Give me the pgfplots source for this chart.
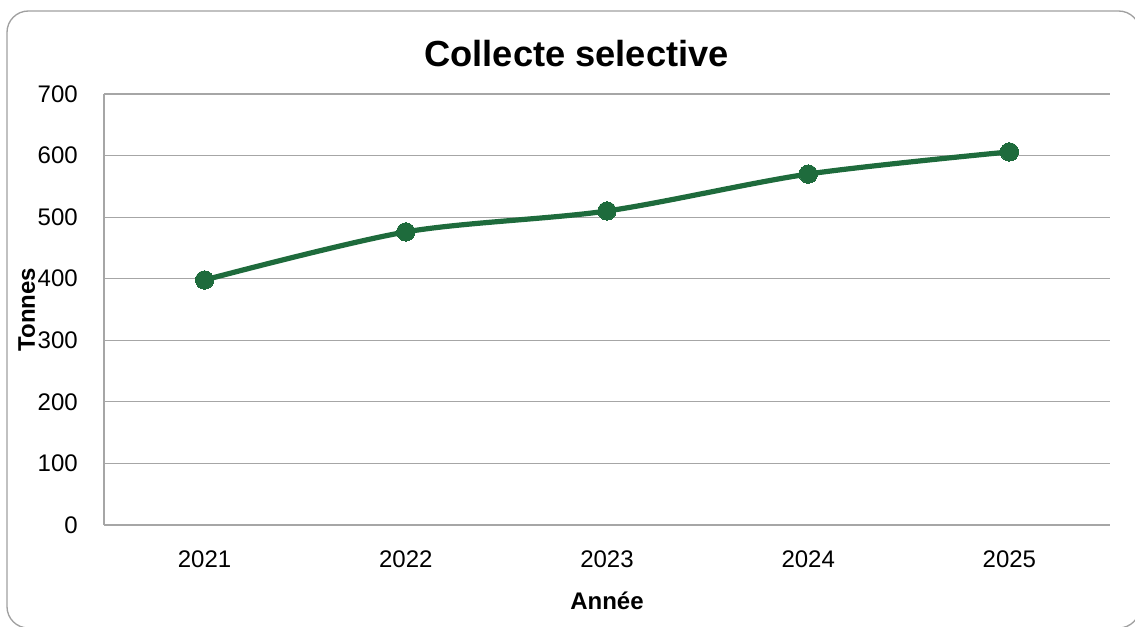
\documentclass[border=0pt]{standalone}
\usepackage{pgfplots}
\pgfplotsset{compat=1.18}
\usepackage{fontspec}
\setmainfont{Liberation Sans}
\definecolor{linegreen}{HTML}{1E6B3C}
\definecolor{gridgray}{HTML}{A6A6A6}
\definecolor{bordergray}{HTML}{A0A0A0}
\begin{document}
\begin{tikzpicture}
\useasboundingbox (0,0) rectangle (851.25pt,469.5pt);
\begin{scope}
\clip (0,0) rectangle (851.25pt,469.5pt);
\draw[bordergray, line width=1pt, rounded corners=16pt] (5.25pt,-1.5pt) rectangle (855pt,461.25pt);
\end{scope}
\node[anchor=base, inner sep=0pt, font=\fontsize{27.2}{31}\selectfont\bfseries] at (432.4pt,419.5pt) {Collecte selective};
\begin{axis}[
  at={(78pt,75.75pt)}, anchor=south west,
  scale only axis, width=754.5pt, height=323.25pt,
  xmin=2020.5, xmax=2025.5, ymin=0, ymax=700,
  xtick={2021,2022,2023,2024,2025},
  xticklabels={2021,2022,2023,2024,2025},
  ytick={0,100,...,700},
  major tick length=0pt,
  axis x line*=bottom, axis y line*=left,
  axis line style={gridgray, line width=0.9pt, -},
  ymajorgrids, grid style={gridgray, line width=0.9pt},
  /pgf/number format/assume math mode=true,
  ticklabel style={font=\fontsize{18}{20}\selectfont, inner sep=0pt},
  yticklabel style={anchor=east, xshift=-19.5pt},
  xticklabel style={anchor=north, yshift=-18.75pt},
  xlabel={Année}, ylabel={Tonnes},
  xlabel style={font=\fontsize{18}{20}\selectfont\bfseries, inner sep=0pt, at={(axis description cs:0.5,0)}, anchor=north, yshift=-50pt},
  ylabel style={font=\fontsize{18}{20}\selectfont\bfseries, inner sep=0pt, at={(axis description cs:-0.0855,0.5)}, anchor=north, rotate=0},
  clip=false,
]
\addplot[linegreen, line width=3.9pt, smooth, tension=0.5, mark=*, mark size=6.9pt, mark options={fill=linegreen, draw=linegreen, line width=0pt}] coordinates {
  (2021,398) (2022,476) (2023,510) (2024,570) (2025,606)
};
\end{axis}
\end{tikzpicture}
\end{document}
